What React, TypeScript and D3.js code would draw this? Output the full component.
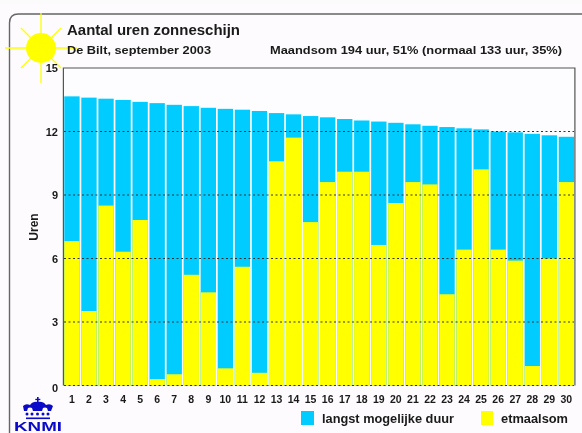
import React from "react";
import * as d3 from "d3";

const days = d3.range(1, 31);
const maxDuration = [13.66,13.6,13.55,13.49,13.4,13.34,13.26,13.2,13.12,13.07,13.03,12.97,12.87,12.81,12.73,12.67,12.59,12.52,12.47,12.41,12.34,12.27,12.21,12.15,12.1,12.0,11.96,11.89,11.82,11.75];
const dailySum = [6.82,3.52,8.5,6.32,7.82,0.3,0.53,5.23,4.4,0.81,5.61,0.6,10.59,11.71,7.72,9.61,10.1,10.1,6.64,8.62,9.61,9.5,4.31,6.42,10.21,6.42,5.9,0.92,6.0,9.61];
const yTicks = [0, 3, 6, 9, 12, 15];
const title = "Aantal uren zonneschijn";
const subtitle = "De Bilt, september 2003";
const summary = "Maandsom 194 uur, 51% (normaal 133 uur, 35%)";
const legendLabels = ["langst mogelijke duur", "etmaalsom"];

const BLUE = "#00ccff";
const YELLOW = "#ffff00";
const INK = "#1a1a1a";
const KNMI = "#0a0ac8";
const FONT = "'Liberation Sans', Arial, sans-serif";

const x = d3.scaleBand<number>().domain(days).range([63.4, 574.9]).paddingInner(0.1).paddingOuter(0.05);
const y = d3.scaleLinear().domain([0, 15]).range([385.5, 68]);

const sunC = { x: 41, y: 48, r: 15 };
const rays = [
  [0, -35, 0, 35], [-36, 0, 36, 0], [-20, -20, 20, 20], [-20, 20, 20, -20],
];
const crownDots = [27, 32, 37.5, 43, 48];

export default function App() {
  return (
    <svg width={582} height={433} viewBox="0 0 582 433"
      style={{ position: "fixed", left: 0, top: 0, display: "block", background: "#fdfbfd", filter: "blur(0.35px)" }}>
      <rect x={0} y={0} width={582} height={4} fill="#fbfbfb" />
      <path d="M9.5 433 V23 Q9.5 14 18.5 14 H582" fill="none" stroke="#666" strokeWidth={1.4} />

      <g fill="#e6eef9">
        <path d="M311 84 h8 v-6 h8 v6 h8 v9 h-8 v7 l8 8 v12 h-25 v-12 l9 -8 v-7 h-8 z" />
        <path d="M367 119 l17 -12 l17 12 z" />
      </g>

      <rect x={63.4} y={68} width={511.5} height={317.5} fill="#fdfcfe" />
      <path d="M63.4 385.5 V68 H574.9 V385.5" fill="none" stroke="#555" strokeWidth={1.2} />

      {days.map((d, i) => (
        <g key={d}>
          <rect x={x(d)} width={x.bandwidth()} y={y(maxDuration[i])} height={y(0) - y(maxDuration[i])} fill={BLUE} />
          <rect x={x(d)} width={x.bandwidth()} y={y(dailySum[i])} height={y(0) - y(dailySum[i])} fill={YELLOW} />
        </g>
      ))}

      {yTicks.slice(0, 5).map((t) => (
        <line key={t} x1={64} x2={574} y1={y(t)} y2={y(t)} stroke="#333" strokeWidth={1} strokeDasharray="2 2.5" />
      ))}

      <g stroke={YELLOW} strokeWidth={1.3}>
        {rays.map((r, i) => (
          <line key={i} x1={sunC.x + r[0]} y1={sunC.y + r[1]} x2={sunC.x + r[2]} y2={sunC.y + r[3]} />
        ))}
      </g>
      <circle cx={sunC.x} cy={sunC.y} r={sunC.r} fill={YELLOW} />

      <g fontFamily={FONT} fill={INK}>
        <text x={67} y={35} fontSize={14} fontWeight={700} textLength={173} lengthAdjust="spacingAndGlyphs">{title}</text>
        <text x={67} y={54} fontSize={11.5} fontWeight={700} textLength={144} lengthAdjust="spacingAndGlyphs">{subtitle}</text>
        <text x={270} y={54} fontSize={11.5} fontWeight={700} textLength={292} lengthAdjust="spacingAndGlyphs">{summary}</text>

        {yTicks.map((t) => (
          <text key={t} x={58} y={y(t) + (t === 0 ? 6 : 4)} fontSize={11} fontWeight={700} textAnchor="end">{t}</text>
        ))}
        {days.map((d) => (
          <text key={d} x={x(d)! + x.bandwidth() / 2} y={403} fontSize={10.5} fontWeight={700} textAnchor="middle">{d}</text>
        ))}
        <text transform="translate(38,227) rotate(-90)" fontSize={12} fontWeight={700} textAnchor="middle">Uren</text>

        <rect x={301} y={411} width={13} height={14} fill={BLUE} />
        <text x={322} y={423} fontSize={12} fontWeight={700} textLength={132} lengthAdjust="spacingAndGlyphs">{legendLabels[0]}</text>
        <rect x={481} y={411} width={12} height={14} fill={YELLOW} />
        <text x={501} y={423} fontSize={12} fontWeight={700} textLength={67} lengthAdjust="spacingAndGlyphs">{legendLabels[1]}</text>
      </g>

      <g fill={KNMI}>
        <rect x={37} y={397} width={1.6} height={6} />
        <rect x={35.3} y={398.8} width={5} height={1.3} />
        <path d="M23 406 q3 -3 7 -1 q3 -4 8 -3 q5 -1 8 3 q4 -2 7 1 l-2 5 h-3 l-1 -3 q-2 -1 -4 0 l-1 3 h-9 l-1 -3 q-2 -1 -4 0 l-1 3 h-3 z" />
        {crownDots.map((cx) => (
          <circle key={cx} cx={cx} cy={414} r={1.5} />
        ))}
        <rect x={26} y={417.5} width={24} height={1.6} />
        <text x={14} y={431} fontFamily={FONT} fontSize={13} fontWeight={700} textLength={48} lengthAdjust="spacingAndGlyphs">KNMI</text>
      </g>
    </svg>
  );
}
